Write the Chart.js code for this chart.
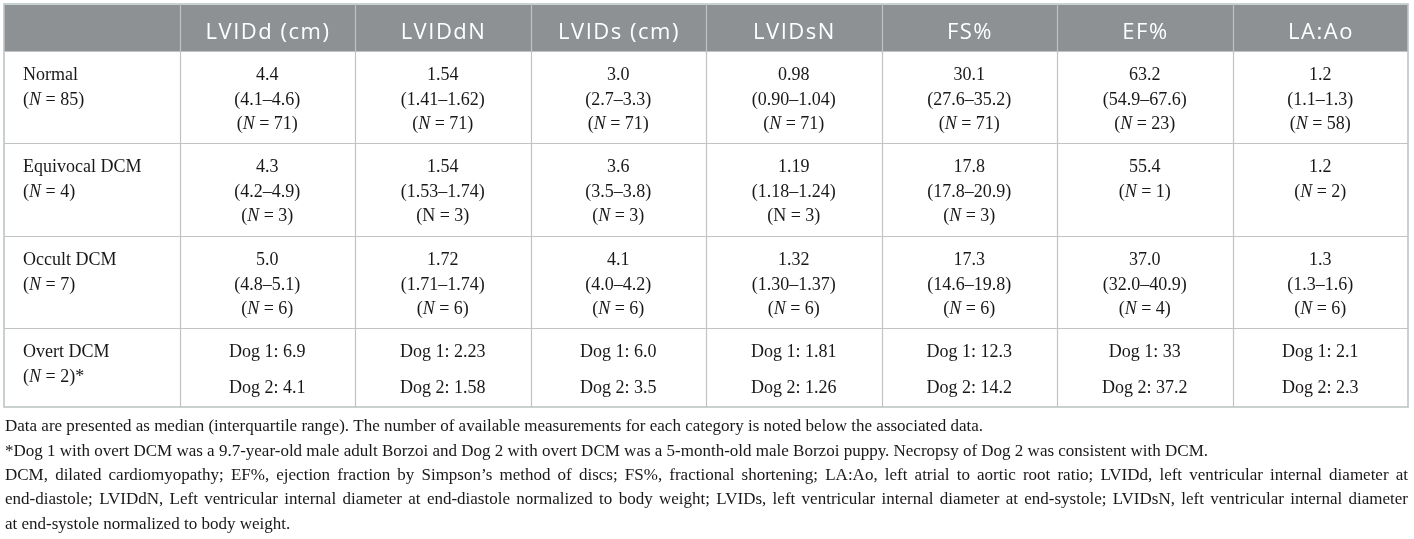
<!DOCTYPE html>
<html>
<head>
<meta charset="utf-8">
<script src="https://cdn.jsdelivr.net/npm/chart.js@4.4.0/dist/chart.umd.min.js"></script>
<style>
html, body { margin: 0; padding: 0; background: #fff; }
#wrap { width: 1414px; height: 539px; }
</style>
</head>
<body>
<div id="wrap"><canvas id="myChart" width="1414" height="539"></canvas></div>
<script>
// table content
const columns = ['LVIDd (cm)', 'LVIDdN', 'LVIDs (cm)', 'LVIDsN', 'FS%', 'EF%', 'LA:Ao'];
const groups = ['Normal', 'Equivocal DCM', 'Occult DCM', 'Overt DCM'];
const groupN = ['(_N_ = 85)', '(_N_ = 4)', '(_N_ = 7)', '(_N_ = 2)*'];

const normalMedian = ['4.4', '1.54', '3.0', '0.98', '30.1', '63.2', '1.2'];
const normalIQR = ['(4.1–4.6)', '(1.41–1.62)', '(2.7–3.3)', '(0.90–1.04)', '(27.6–35.2)', '(54.9–67.6)', '(1.1–1.3)'];
const normalN = [71, 71, 71, 71, 71, 23, 58];

const equivocalMedian = ['4.3', '1.54', '3.6', '1.19', '17.8', '55.4', '1.2'];
const equivocalIQR = ['(4.2–4.9)', '(1.53–1.74)', '(3.5–3.8)', '(1.18–1.24)', '(17.8–20.9)', null, null];
const equivocalN = [3, 3, 3, 3, 3, 1, 2];
const equivocalUprightN = [1, 3]; // these two print N in roman in the source

const occultMedian = ['5.0', '1.72', '4.1', '1.32', '17.3', '37.0', '1.3'];
const occultIQR = ['(4.8–5.1)', '(1.71–1.74)', '(4.0–4.2)', '(1.30–1.37)', '(14.6–19.8)', '(32.0–40.9)', '(1.3–1.6)'];
const occultN = [6, 6, 6, 6, 6, 4, 6];

const overtDog1 = ['6.9', '2.23', '6.0', '1.81', '12.3', '33', '2.1'];
const overtDog2 = ['4.1', '1.58', '3.5', '1.26', '14.2', '37.2', '2.3'];

const notes = [
  'Data are presented as median (interquartile range). The number of available measurements for each category is noted below the associated data.',
  '*Dog 1 with overt DCM was a 9.7-year-old male adult Borzoi and Dog 2 with overt DCM was a 5-month-old male Borzoi puppy. Necropsy of Dog 2 was consistent with DCM.',
  'DCM, dilated cardiomyopathy; EF%, ejection fraction by Simpson’s method of discs; FS%, fractional shortening; LA:Ao, left atrial to aortic root ratio; LVIDd, left ventricular internal diameter at',
  'end-diastole; LVIDdN, Left ventricular internal diameter at end-diastole normalized to body weight; LVIDs, left ventricular internal diameter at end-systole; LVIDsN, left ventricular internal diameter',
  'at end-systole normalized to body weight.'
];
const notesJustified = [false, false, true, true, false];

// layout: row edges in y-scale units (header + 4 groups)
const rowEdges = [0, 47, 139, 232, 324, 403];

const nText = (n, upright) => upright ? '(N = ' + n + ')' : '(_N_ = ' + n + ')';

const bodyRows = [
  columns.map((_, c) => [normalMedian[c], normalIQR[c], nText(normalN[c])]),
  columns.map((_, c) => [equivocalMedian[c], equivocalIQR[c], nText(equivocalN[c], equivocalUprightN.includes(c))].filter(v => v)),
  columns.map((_, c) => [occultMedian[c], occultIQR[c], nText(occultN[c])]),
  columns.map((_, c) => ['Dog 1: ' + overtDog1[c], 'Dog 2: ' + overtDog2[c]])
];
const lineGap = [24.5, 24.5, 24.5, 36];

const SERIF = '"Liberation Serif", "Times New Roman", serif';
const serifFont = (italic, size) => (italic ? 'italic ' : '') + size + 'px ' + SERIF;

// draws text where parts between _ _ are italic
function drawRich(ctx, str, x, y, align, size) {
  const parts = str.split('_');
  let w = 0;
  parts.forEach((p, i) => { ctx.font = serifFont(i % 2, size); w += ctx.measureText(p).width; });
  let cx = align === 'center' ? x - w / 2 : x;
  ctx.textAlign = 'left';
  parts.forEach((p, i) => {
    ctx.font = serifFont(i % 2, size);
    ctx.fillText(p, cx, y);
    cx += ctx.measureText(p).width;
  });
}

function drawJustified(ctx, str, x, y, width) {
  const words = str.split(' ');
  let total = 0;
  words.forEach(w => total += ctx.measureText(w).width);
  const gap = (width - total) / (words.length - 1);
  let cx = x;
  ctx.textAlign = 'left';
  words.forEach(w => { ctx.fillText(w, cx, y); cx += ctx.measureText(w).width + gap; });
}

const tablePlugin = {
  id: 'tableCells',
  afterDatasetsDraw(chart) {
    const ctx = chart.ctx;
    const xs = chart.scales.x, ys = chart.scales.y;
    const colX = i => xs.getPixelForValue(i);
    const rowY = i => ys.getPixelForValue(rowEdges[i]);
    const left = colX(0), right = colX(8), top = rowY(0), bottom = rowY(5);

    ctx.save();
    // header band
    ctx.fillStyle = '#8d9194';
    ctx.fillRect(left, top + 1, right - left, rowY(1) - top - 1);

    // inner grid
    ctx.strokeStyle = '#c2c2c2';
    ctx.lineWidth = 1.2;
    for (let c = 1; c < 8; c++) {
      const px = Math.round(colX(c)) + 0.5;
      ctx.beginPath(); ctx.moveTo(px, top); ctx.lineTo(px, bottom); ctx.stroke();
    }
    for (let r = 1; r < 5; r++) {
      const py = Math.round(rowY(r)) + 0.5;
      ctx.beginPath(); ctx.moveTo(left, py); ctx.lineTo(right, py); ctx.stroke();
    }
    // outer frame
    ctx.strokeStyle = '#bcc5c5';
    ctx.lineWidth = 1.6;
    ctx.strokeRect(left, top, right - left, bottom - top);

    // header labels
    ctx.fillStyle = '#ffffff';
    ctx.font = '400 22px "Open Sans", "Noto Sans", sans-serif';
    ctx.letterSpacing = '1.5px';
    ctx.textAlign = 'center';
    ctx.textBaseline = 'alphabetic';
    columns.forEach((t, i) => {
      ctx.fillText(t, (colX(i + 1) + colX(i + 2)) / 2 + 0.75, top + 35);
    });
    ctx.letterSpacing = '0px';

    // body
    ctx.fillStyle = '#1a1718';
    ctx.textBaseline = 'middle';
    bodyRows.forEach((row, r) => {
      const rTop = rowY(r + 1);
      drawRich(ctx, groups[r], left + 19, rTop + 24.5, 'left', 18);
      drawRich(ctx, groupN[r], left + 19, rTop + 49, 'left', 18);
      row.forEach((lines, c) => {
        const cx = (colX(c + 1) + colX(c + 2)) / 2;
        lines.forEach((s, k) => drawRich(ctx, s, cx, rTop + 24.5 + k * lineGap[r], 'center', 18));
      });
    });

    // footnotes under the table
    ctx.fillStyle = '#1a1718';
    ctx.font = serifFont(false, 17);
    notes.forEach((s, i) => {
      const py = bottom + 20 + i * 24.3;
      if (notesJustified[i]) drawJustified(ctx, s, left + 1, py, right - left - 1);
      else { ctx.textAlign = 'left'; ctx.fillText(s, left + 1, py); }
    });
    ctx.restore();
  }
};

// one invisible point per cell so the scales span the table
const cellPoints = [];
for (let r = 0; r < 5; r++) {
  for (let c = 0; c < 8; c++) {
    cellPoints.push({ x: c + 0.5, y: (rowEdges[r] + rowEdges[r + 1]) / 2 });
  }
}

const ctx = document.getElementById('myChart').getContext('2d');
window.tableChart = new Chart(ctx, {
  type: 'scatter',
  data: { datasets: [{ data: cellPoints, pointRadius: 0, pointHoverRadius: 0 }] },
  options: {
    responsive: false,
    animation: false,
    events: [],
    layout: { padding: { top: 4, left: 4, right: 6, bottom: 132 } },
    plugins: { legend: { display: false }, tooltip: { enabled: false } },
    scales: {
      x: { type: 'linear', min: 0, max: 8, display: false },
      y: { type: 'linear', min: 0, max: 403, reverse: true, display: false }
    }
  },
  plugins: [tablePlugin]
});
</script>
</body>
</html>
